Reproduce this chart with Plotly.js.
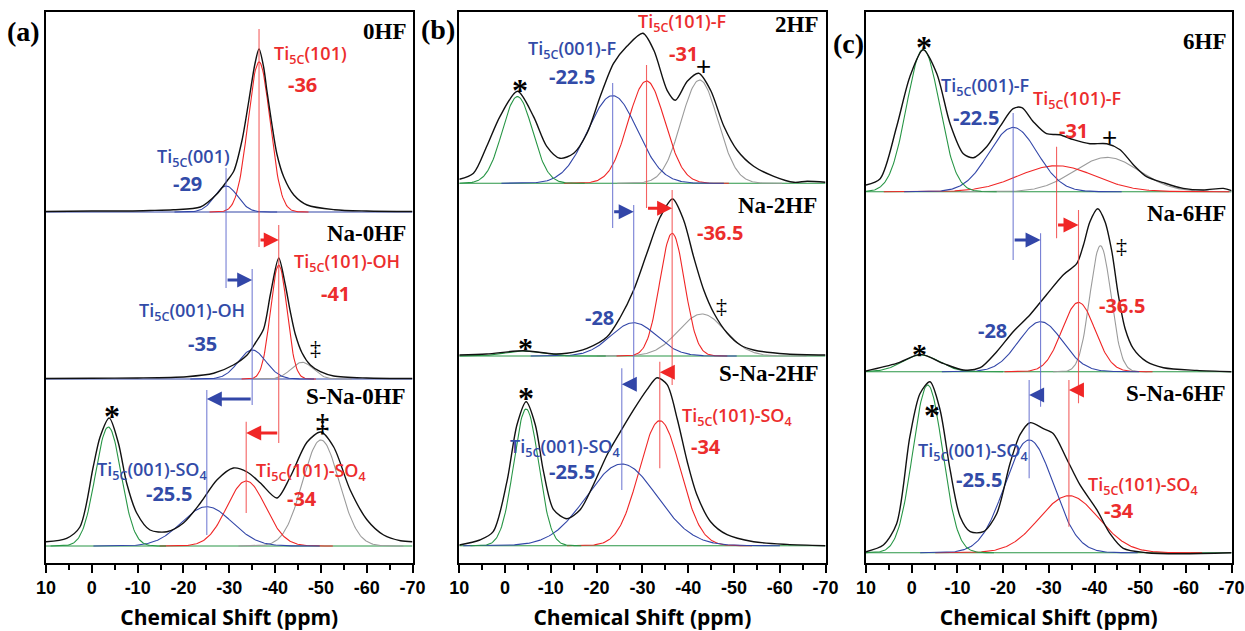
<!DOCTYPE html>
<html>
<head>
<meta charset="utf-8">
<script src="https://cdn.plot.ly/plotly-3.0.1.min.js"></script>
<style>html,body{margin:0;padding:0;background:#fff;}#chart{width:1245px;height:631px;}</style>
</head>
<body>
<div id="chart"></div>
<script>
// ---------------- DATA ----------------
const shiftTicks = [10, 0, -10, -20, -30, -40, -50, -60, -70];
const shiftTickText = ['10', '0', '-10', '-20', '-30', '-40', '-50', '-60', '-70'];
const panelTags = ['(a)', '(b)', '(c)'];
const sampleNames = ['0HF', 'Na-0HF', 'S-Na-0HF', '2HF', 'Na-2HF', 'S-Na-2HF', '6HF', 'Na-6HF', 'S-Na-6HF'];

// experimental spectra (black) : chemical shift (ppm) and intensity (a.u.)
const exp1Shift = [10, 0, -8, -12.7, -17.8, -23.7, -27.3, -29.5, -31, -32.8, -34.3, -35.6, -36.5, -37.5, -38.2, -39.3, -40.4, -41.9, -44.1, -47, -53, -60, -70];
const exp1Int   = [0.5, 1, 1, 1.5, 2.3, 5, 18, 31, 41, 72, 112, 148, 163, 145, 122, 88, 58, 35, 17, 7, 2.3, 1, 0.5];
const exp2Shift = [10, 0, -10, -20.7, -26.6, -30.9, -33.9, -35.7, -37.5, -39, -40.8, -42.2, -43.3, -44.4, -45.9, -47.7, -49.9, -52.8, -60, -70];
const exp2Int   = [0.5, 0.8, 1, 2.3, 5.7, 14, 24, 36, 50, 85, 121, 95, 68, 45, 26, 14, 7.3, 3, 1, 0.5];
const exp3Shift = [10, 5.5, 2.6, -0.3, -1.8, -3.8, -5.8, -7.6, -9.8, -12.7, -16.4, -20, -23.7, -27.3, -30.9, -33.9, -36.8, -40.4, -43.3, -47, -50, -52.8, -56.4, -60.1, -63.7, -67.4, -70];
const exp3Int   = [4.3, 7.7, 19, 79, 109, 128, 103, 63, 33, 16, 14.3, 23, 43, 66, 78, 74, 63, 48, 69, 104, 114, 99, 56, 26, 11, 5.3, 4.3];
const exp4Shift = [10, 6.9, 4.0, 1.1, -2.7, -6.2, -9.1, -12, -15, -17.9, -20.8, -23.7, -26.6, -30.1, -32.5, -35.4, -37.2, -39.8, -42.3, -44.9, -47.8, -50.7, -54.3, -58.7, -63.1, -66, -70];
const exp4Int   = [4, 10, 37, 67, 92, 67, 37, 25, 30, 50, 87, 120, 137, 150, 133, 93, 83, 102, 110, 93, 57, 33, 17, 7, 1, 2, 1];
const exp5Shift = [10, 4, -4, -10.6, -13.5, -17.9, -22.3, -25.2, -28.1, -31, -33.9, -36.6, -39, -41.2, -43.4, -45.6, -48.5, -51.4, -54.3, -61.6, -70];
const exp5Int   = [1, 2, 5.3, 2, 2.7, 7.7, 19.3, 39, 66, 103, 139, 157, 136, 99, 66, 43, 23, 11, 6, 2, 1];
const exp6Shift = [10, 5.5, 2.6, -0.4, -2.6, -4.6, -6.6, -8.4, -10.6, -13.5, -16.4, -19.3, -22.3, -25.2, -28.1, -31, -33.2, -35.4, -37.6, -39.8, -41.9, -44.9, -48.5, -54.3, -61.6, -70];
const exp6Int   = [0.7, 5.7, 14, 64, 121, 144, 121, 74, 36, 27, 36, 61, 91, 114, 136, 156, 168, 161, 127, 84, 51, 24, 11, 4, 1.3, 0];
const exp7Shift = [10, 6.9, 3.3, 0.4, -2.5, -5.5, -8.4, -11.3, -13.5, -16.4, -19.3, -22.2, -24.1, -26.6, -29.5, -32.4, -35.4, -39, -42.7, -45.6, -48.5, -51.4, -55.1, -59.4, -63.8, -68.2, -70];
const exp7Int   = [6.7, 13, 65, 115, 142, 118, 68, 38, 34, 45, 65, 83, 84, 70, 58, 57, 52, 48, 48, 42, 27, 15, 9, 3.3, 1.7, 3.3, 1];
const exp8Shift = [10, 3.3, -2, -6.9, -11.3, -15, -18.6, -22.2, -25.9, -29.5, -33.2, -36.1, -37.6, -39, -40.7, -42.3, -43.8, -45.2, -46.7, -48.5, -51.4, -55.1, -62.4, -70];
const exp8Int   = [0.7, 8.3, 17.3, 8.3, 1.7, 4, 20, 40, 57, 77, 97, 108, 127, 150, 163, 150, 120, 77, 43, 23, 10, 4, 1.3, 0];
const exp9Shift = [10, 6.2, 3.3, 0.4, -1.8, -4, -6.2, -8.4, -10.6, -12.8, -15.7, -18.6, -21.5, -23.7, -25.9, -28.8, -31, -33.9, -36.8, -40.5, -43.4, -46.3, -51.4, -58.7, -70];
const exp9Int   = [1, 7.7, 29, 116, 159, 171, 143, 83, 36, 21, 21, 39, 89, 118, 130, 124, 119, 94, 68, 43, 19, 4.3, 0, -1, 0];

// fitted components (one entry per spectrum, null = absent): centre (ppm), height, sigma (ppm)
const blueCenter  = [-29.3, -35, -25.1, -23.5, -28.1, -25.5, -22.2, -28.2, -25.7];
const blueHeight  = [26, 29, 39.3, 87.7, 33.3, 81.7, 64.3, 50, 112.7];
const blueWidth   = [2.5, 3.0, 5.5, 5.4, 5.0, 7.7, 5.3, 4.8, 5.3];
const redCenter   = [-36.5, -40.8, -33.7, -30.9, -36.5, -33.8, -31.7, -36.5, -34.4];
const redHeight   = [150, 114, 65, 102.3, 122.7, 125, 26, 69.3, 57];
const redWidth    = [2.4, 1.8, 4.2, 4.0, 2.7, 4.5, 8.4, 3.6, 6.5];
const grayCenter  = [null, -45.9, -50, -42.5, -43, null, -42.7, -41.3, null];
const grayHeight  = [null, 16.7, 106, 103.3, 42, null, 34.3, 126, null];
const grayWidth   = [null, 2.4, 4.0, 4.0, 5.1, null, 7.1, 2.3, null];
const greenCenter = [null, null, -3.6, -2.7, -4, -4.6, -2.5, -2, -3.5];
const greenHeight = [null, null, 119, 86.7, 5, 136.7, 142.3, 16.7, 167.7];
const greenWidth  = [null, null, 2.8, 3.3, 4, 2.7, 3.6, 4, 3.25];

// ---------------- LAYOUT / STYLE ----------------
const expShift = [exp1Shift, exp2Shift, exp3Shift, exp4Shift, exp5Shift, exp6Shift, exp7Shift, exp8Shift, exp9Shift];
const expInt = [exp1Int, exp2Int, exp3Int, exp4Int, exp5Int, exp6Int, exp7Int, exp8Int, exp9Int];
const stackOffset = [350.5, 183.5, 16.5, 379.2, 206.5, 16.8, 370.8, 190.8, 9.8];
const W = 1245, H = 631, TOP = 12, BOT = 562.5;
const colL = [46, 459.3, 866], colR = [412.5, 825.5, 1231.6];
const BLUE = 'rgb(50,70,168)', RED = 'rgb(240,38,38)', GREEN = 'rgb(40,150,70)', GRAY = 'rgb(155,155,155)', BLACK = '#111';
const TXTBLUE = 'rgb(50,75,168)', TXTRED = 'rgb(236,45,45)';
const VBLUE = 'rgba(95,105,205,0.85)', VRED = 'rgba(242,70,70,0.85)';
const baseColor = [BLUE, BLUE, GREEN, GREEN, GREEN, GREEN, GREEN, GREEN, GREEN];

const traces = [];
function ax(i) { const p = Math.floor(i / 3); return p === 0 ? ['x', 'y'] : ['x' + (p + 1), 'y' + (p + 1)]; }
function comp(i, c, h, s, color) {
  if (c === null) return;
  const xs = [], ys = [];
  const lo = Math.max(-70, c - 4.5 * s), hi = Math.min(10, c + 4.5 * s);
  for (let x = hi; x >= lo - 1e-9; x -= 0.2) { xs.push(x); ys.push(stackOffset[i] + h * Math.exp(-(x - c) * (x - c) / (2 * s * s))); }
  const [xa, ya] = ax(i);
  traces.push({ x: xs, y: ys, xaxis: xa, yaxis: ya, mode: 'lines', line: { color: color, width: 1.1 }, hoverinfo: 'skip', showlegend: false });
}
for (let i = 0; i < 9; i++) {
  const [xa, ya] = ax(i);
  traces.push({ x: [10, -70], y: [stackOffset[i], stackOffset[i]], xaxis: xa, yaxis: ya, mode: 'lines', line: { color: baseColor[i], width: 1.1 }, hoverinfo: 'skip', showlegend: false });
  comp(i, grayCenter[i], grayHeight[i], grayWidth[i], GRAY);
  comp(i, redCenter[i], redHeight[i], redWidth[i], RED);
  comp(i, blueCenter[i], blueHeight[i], blueWidth[i], BLUE);
  comp(i, greenCenter[i], greenHeight[i], greenWidth[i], GREEN);
  traces.push({ x: expShift[i], y: expInt[i].map(v => v + stackOffset[i]), xaxis: xa, yaxis: ya, mode: 'lines', line: { color: BLACK, width: 1.4, shape: 'spline', smoothing: 0.8 }, name: sampleNames[i], hoverinfo: 'x+name', showlegend: false });
}

// shapes: vertical marker lines at the component centres (screen-y extents)
const shapes = [];
function vline(i, x, syTop, syBot, color) {
  const [xa, ya] = ax(i);
  shapes.push({ type: 'line', xref: xa, yref: ya, x0: x, x1: x, y0: BOT - syTop, y1: BOT - syBot, line: { color: color, width: 1.1 } });
}
const annotations = [];
function arrow(i, xFrom, xTo, sy, color) {
  const [xa, ya] = ax(i);
  annotations.push({ xref: xa, yref: ya, axref: xa, ayref: ya, x: xTo, y: BOT - sy, ax: xFrom, ay: BOT - sy, text: '', showarrow: true, arrowhead: 2, arrowsize: 1, arrowwidth: 3, arrowcolor: color, standoff: 0, startstandoff: 0 });
}
// panel (a)
vline(0, blueCenter[0], 168, 288, VBLUE); vline(0, redCenter[0], 29, 247, VRED);
arrow(0, blueCenter[0], blueCenter[1], 280, BLUE); arrow(0, redCenter[0], redCenter[1], 240, RED);
vline(0, blueCenter[1], 269, 405, VBLUE); vline(0, redCenter[1], 225, 443, VRED);
arrow(0, blueCenter[1], blueCenter[2], 399, BLUE); arrow(0, redCenter[1], redCenter[2], 433, RED);
vline(0, blueCenter[2], 390, 535, VBLUE); vline(0, redCenter[2], 421.7, 513, VRED);
// panel (b)
vline(3, blueCenter[3], 83, 228, VBLUE); vline(3, redCenter[3], 65, 208, VRED);
arrow(3, blueCenter[3], blueCenter[4], 211.7, BLUE); arrow(3, redCenter[3], redCenter[4], 208.3, RED);
vline(3, blueCenter[4], 205, 390, VBLUE); vline(3, redCenter[4], 190, 385, VRED);
arrow(3, blueCenter[4], blueCenter[5], 384.3, BLUE); arrow(3, redCenter[4], redCenter[5], 372.3, RED);
vline(3, blueCenter[5], 368.3, 490, VBLUE); vline(3, redCenter[5], 361.7, 468.3, VRED);
// panel (c)
vline(6, blueCenter[6], 113, 260, VBLUE); vline(6, redCenter[6], 146.7, 238.3, VRED);
arrow(6, blueCenter[6], blueCenter[7], 240, BLUE); arrow(6, redCenter[6], redCenter[7], 225, RED);
vline(6, blueCenter[7], 233.3, 406.7, VBLUE); vline(6, redCenter[7], 210, 403.3, VRED);
arrow(6, blueCenter[7], blueCenter[8], 395, BLUE); arrow(6, redCenter[7], redCenter[8], 390, RED);
vline(6, blueCenter[8], 380, 478.3, VBLUE); vline(6, redCenter[8], 380, 526.7, VRED);

// text labels (screen pixel positions)
function lab(sx, sy, text, color, size, family, weight, xanchor) {
  annotations.push({ xref: 'paper', yref: 'paper', x: sx / W, y: 1 - sy / H, text: text, showarrow: false,
    xanchor: xanchor || 'center', yanchor: 'middle', font: { color: color, size: size, family: family, weight: weight } });
}
const SERIF = 'Liberation Serif, Times New Roman, serif';
const SANS = 'Open Sans, Noto Sans, sans-serif';
const TIW = 600;
lab(23, 31, panelTags[0], '#000', 28, SERIF, 'bold');
lab(438, 29.5, panelTags[1], '#000', 28, SERIF, 'bold');
lab(849, 43.5, panelTags[2], '#000', 28, SERIF, 'bold');
const nameX = [408, 407.5, 408, 819.5, 818.5, 821, 1228, 1228, 1228];
const nameY = [31.5, 233.3, 396, 25, 205, 373.3, 41.7, 213.3, 393.3];
for (let i = 0; i < 9; i++) lab(nameX[i], nameY[i], sampleNames[i], '#000', 23, SERIF, 'bold', 'right');

// peak labels
lab(310, 54, 'Ti<sub>5C</sub>(101)', TXTRED, 18, SANS, TIW);
lab(302, 84, '-36', TXTRED, 20, SANS, 'bold');
lab(193, 157, 'Ti<sub>5C</sub>(001)', TXTBLUE, 18, SANS, TIW);
lab(187, 184, '-29', TXTBLUE, 20, SANS, 'bold');
lab(347, 262, 'Ti<sub>5C</sub>(101)-OH', TXTRED, 18, SANS, TIW);
lab(335, 293, '-41', TXTRED, 20, SANS, 'bold');
lab(192, 312, 'Ti<sub>5C</sub>(001)-OH', TXTBLUE, 18, SANS, TIW);
lab(202, 343, '-35', TXTBLUE, 20, SANS, 'bold');
lab(152, 470, 'Ti<sub>5C</sub>(001)-SO<sub>4</sub>', TXTBLUE, 18, SANS, TIW);
lab(169, 494, '-25.5', TXTBLUE, 20, SANS, 'bold');
lab(311, 471, 'Ti<sub>5C</sub>(101)-SO<sub>4</sub>', TXTRED, 18, SANS, TIW);
lab(302, 498, '-34', TXTRED, 20, SANS, 'bold');

lab(572, 50, 'Ti<sub>5C</sub>(001)-F', TXTBLUE, 18, SANS, TIW);
lab(572, 76, '-22.5', TXTBLUE, 20, SANS, 'bold');
lab(682, 22, 'Ti<sub>5C</sub>(101)-F', TXTRED, 18, SANS, TIW);
lab(683, 53, '-31', TXTRED, 20, SANS, 'bold');
lab(720, 233, '-36.5', TXTRED, 20, SANS, 'bold');
lab(599, 317, '-28', TXTBLUE, 20, SANS, 'bold');
lab(565, 447, 'Ti<sub>5C</sub>(001)-SO<sub>4</sub>', TXTBLUE, 18, SANS, TIW);
lab(572, 472, '-25.5', TXTBLUE, 20, SANS, 'bold');
lab(737, 416, 'Ti<sub>5C</sub>(101)-SO<sub>4</sub>', TXTRED, 18, SANS, TIW);
lab(706, 446, '-34', TXTRED, 20, SANS, 'bold');

lab(985, 86, 'Ti<sub>5C</sub>(001)-F', TXTBLUE, 18, SANS, TIW);
lab(976, 117, '-22.5', TXTBLUE, 20, SANS, 'bold');
lab(1077, 100, 'Ti<sub>5C</sub>(101)-F', TXTRED, 18, SANS, TIW);
lab(1073, 130, '-31', TXTRED, 20, SANS, 'bold');
lab(1122, 305, '-36.5', TXTRED, 20, SANS, 'bold');
lab(992, 330, '-28', TXTBLUE, 20, SANS, 'bold');
lab(973, 451, 'Ti<sub>5C</sub>(001)-SO<sub>4</sub>', TXTBLUE, 18, SANS, TIW);
lab(979, 479, '-25.5', TXTBLUE, 20, SANS, 'bold');
lab(1143, 485, 'Ti<sub>5C</sub>(101)-SO<sub>4</sub>', TXTRED, 18, SANS, TIW);
lab(1119, 510, '-34', TXTRED, 20, SANS, 'bold');

// peak symbols
const SYM = 'Liberation Serif, serif';
lab(112, 416, '*', '#000', 32, SYM, 'bold');
lab(322, 423, '‡', '#000', 26, SYM, 'bold');
lab(315, 347, '‡', '#000', 22, SYM, 'normal');
lab(519.5, 90, '*', '#000', 32, SYM, 'bold');
lab(703, 66, '+', '#000', 26, 'Liberation Sans, sans-serif', 'normal');
lab(525, 347, '*', '#000', 30, SYM, 'bold');
lab(722, 305, '‡', '#000', 22, SYM, 'normal');
lab(526, 398, '*', '#000', 32, SYM, 'bold');
lab(923.5, 47, '*', '#000', 32, SYM, 'bold');
lab(1109, 137, '+', '#000', 26, 'Liberation Sans, sans-serif', 'normal');
lab(1121, 245, '‡', '#000', 22, SYM, 'normal');
lab(919.5, 353, '*', '#000', 30, SYM, 'bold');
lab(932, 415, '*', '#000', 32, SYM, 'bold');

// axes
const layout = { width: W, height: H, margin: { l: 0, r: 0, t: 0, b: 0 }, paper_bgcolor: '#fff', plot_bgcolor: '#fff', showlegend: false, shapes: shapes, annotations: annotations };
for (let p = 0; p < 3; p++) {
  const sfx = p === 0 ? '' : String(p + 1);
  layout['xaxis' + sfx] = {
    domain: [colL[p] / W, colR[p] / W], range: [10, -70], anchor: 'y' + sfx,
    tickmode: 'array', tickvals: shiftTicks, ticktext: shiftTickText,
    ticks: 'outside', ticklen: 8, tickwidth: 2, tickcolor: '#000',
    minor: { tickmode: 'linear', tick0: 0, dtick: 5, ticks: 'outside', ticklen: 5, tickwidth: 2, tickcolor: '#000' },
    showline: true, linewidth: 2, linecolor: '#000', mirror: true, showgrid: false, zeroline: false,
    tickfont: { family: 'Liberation Sans, Arial, sans-serif', size: 18, weight: 'bold', color: '#000' },
    title: { text: 'Chemical Shift (ppm)', font: { family: 'Open Sans, sans-serif', size: 21, weight: 'bold', color: '#000' }, standoff: 14 }
  };
  layout['yaxis' + sfx] = {
    domain: [1 - BOT / H, 1 - TOP / H], range: [0, BOT - TOP], anchor: 'x' + sfx,
    showline: true, linewidth: 2, linecolor: '#000', mirror: true, showgrid: false, zeroline: false,
    ticks: '', showticklabels: false, fixedrange: true
  };
}
Plotly.newPlot('chart', traces, layout, { displayModeBar: false, staticPlot: true });
</script>
</body>
</html>
